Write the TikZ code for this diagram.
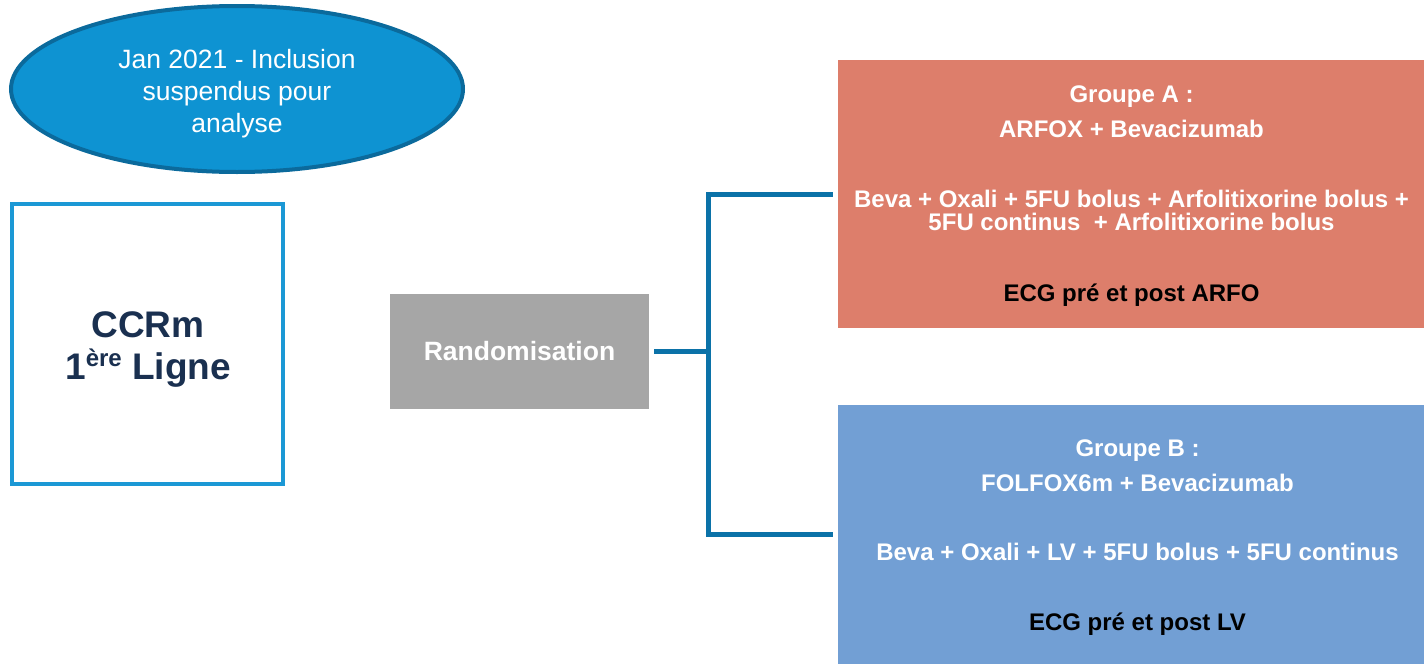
\documentclass[tikz,border=0pt]{standalone}
\usepackage{fontspec}
\setmainfont{Liberation Sans}
\usetikzlibrary{shapes.geometric,calc}

\definecolor{ovalfill}{HTML}{0E93D2}
\definecolor{ovalline}{HTML}{0B6A9C}
\definecolor{boxline}{HTML}{1B98D5}
\definecolor{navy}{HTML}{1A3050}
\definecolor{randgray}{HTML}{A6A6A6}
\definecolor{connblue}{HTML}{0B72A8}
\definecolor{armA}{HTML}{DD7E6B}
\definecolor{armB}{HTML}{729FD4}

\tikzset{
  note/.style={ellipse, draw=ovalline, line width=4pt, fill=ovalfill,
    inner sep=0pt},
  notetext/.style={text=white, align=center, inner sep=0pt,
    font=\fontsize{26.5}{32}\selectfont},
  entry/.style={rectangle, draw=boxline, line width=4pt, fill=white,
    inner sep=0pt},
  entrytext/.style={text=navy, align=center, inner sep=0pt,
    font=\bfseries\fontsize{37}{42}\selectfont},
  randbox/.style={rectangle, fill=randgray, text=white, inner sep=0pt,
    font=\bfseries\fontsize{26.5}{30}\selectfont},
  armbox/.style={rectangle, inner sep=0pt},
  armtext/.style={anchor=base, inner sep=0pt, text=white,
    font=\bfseries\fontsize{24}{28}\selectfont},
  armnote/.style={armtext, text=black},
  conn/.style={draw=connblue, line width=5pt}
}

\begin{document}
\begin{tikzpicture}[x=1pt, y=-1pt]
  \useasboundingbox (0,0) rectangle (1424,664);

  % status note
  \node[note, minimum width=452pt, minimum height=166pt] (note) at (237,89) {};
  \node[notetext] (notetxt) at (237,94)
    {Jan 2021 - Inclusion\\suspendus pour\\analyse};

  % population
  \node[entry, minimum width=271pt, minimum height=280pt] (pop) at (147.5,344) {};
  \node[entrytext] (poptxt) at (148,349)
    {CCRm\\1\raisebox{13pt}{\fontsize{24}{24}\selectfont ère} Ligne};

  % randomisation step
  \node[randbox, minimum width=259pt, minimum height=115pt] (rando) at (519.5,351.5)
    {Randomisation};

  % treatment arms
  \node[armbox, fill=armA, minimum width=586pt, minimum height=268pt] (grpA) at (1131,194) {};
  \node[armbox, fill=armB, minimum width=586pt, minimum height=259pt] (grpB) at (1131,534.5) {};

  \node[armtext] (a1) at (1131.5,102) {Groupe A :};
  \node[armtext] (a2) at (1131.5,137) {ARFOX + Bevacizumab};
  \node[armtext] (a3) at (1131.5,207) {Beva + Oxali + 5FU bolus + Arfolitixorine bolus +};
  \node[armtext] (a4) at (1131.5,230) {5FU continus\ \ + Arfolitixorine bolus};
  \node[armnote] (a5) at (1131.5,301) {ECG pré et post ARFO};

  \node[armtext] (b1) at (1137.5,456) {Groupe B :};
  \node[armtext] (b2) at (1137.5,491) {FOLFOX6m + Bevacizumab};
  \node[armtext] (b3) at (1137.5,560) {Beva + Oxali + LV + 5FU bolus + 5FU continus};
  \node[armnote] (b4) at (1137.5,630) {ECG pré et post LV};

  % branching connector
  \coordinate (split) at (708,351.5);
  \draw[conn] ([xshift=5pt]rando.east) -- (split);
  \draw[conn] ([xshift=-5pt]grpA.west) -| (split) |- ([xshift=-5pt]grpB.west);
\end{tikzpicture}
\end{document}
